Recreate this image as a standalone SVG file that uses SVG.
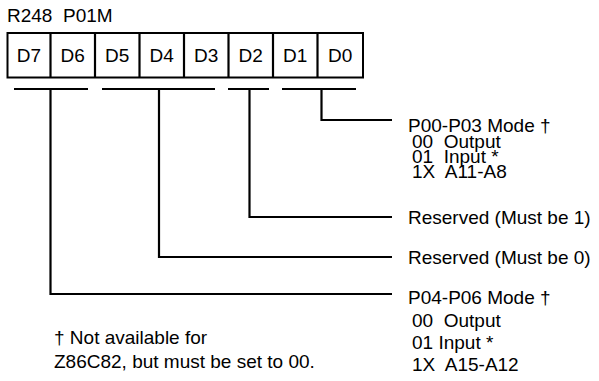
<svg xmlns="http://www.w3.org/2000/svg" width="599" height="381" viewBox="0 0 599 381">
<style>
text{font-family:"Liberation Sans",Arial,sans-serif;font-size:19px;fill:#000;white-space:pre}
.cell{fill:#fff;stroke:#000;stroke-width:2}
.ln{fill:none;stroke:#000;stroke-width:2.2}
.c{text-anchor:middle}
</style>
<rect width="599" height="381" fill="#fff"/>
<text x="7" y="22" xml:space="preserve">R248  P01M</text>
<g id="register">
<rect class="cell" x="7.5" y="33" width="355.5" height="44.5"/>
<g class="ln">
<line x1="50.5" y1="33" x2="50.5" y2="77.5"/>
<line x1="95" y1="33" x2="95" y2="77.5"/>
<line x1="139.5" y1="33" x2="139.5" y2="77.5"/>
<line x1="184" y1="33" x2="184" y2="77.5"/>
<line x1="228.5" y1="33" x2="228.5" y2="77.5"/>
<line x1="273" y1="33" x2="273" y2="77.5"/>
<line x1="317.5" y1="33" x2="317.5" y2="77.5"/>
</g>
<text class="c" x="29" y="62">D7</text>
<text class="c" x="72.7" y="62">D6</text>
<text class="c" x="117.2" y="62">D5</text>
<text class="c" x="161.7" y="62">D4</text>
<text class="c" x="206.2" y="62">D3</text>
<text class="c" x="250.7" y="62">D2</text>
<text class="c" x="295.2" y="62">D1</text>
<text class="c" x="340.2" y="62">D0</text>
</g>
<g id="connectors" class="ln">
<line x1="14" y1="89" x2="88" y2="89"/>
<line x1="102" y1="89" x2="215" y2="89"/>
<line x1="228" y1="89" x2="269" y2="89"/>
<line x1="282" y1="89" x2="356" y2="89"/>
<polyline points="321.5,89 321.5,120 392,120"/>
<polyline points="249.5,89 249.5,217 392,217"/>
<polyline points="159,89 159,257 392,257"/>
<polyline points="50.5,89 50.5,294 392,294"/>
</g>
<g id="p00-p03">
<text x="408" y="132">P00-P03 Mode †</text>
<text x="412" y="148" xml:space="preserve">00  Output</text>
<text x="412" y="163" xml:space="preserve">01  Input *</text>
<text x="412" y="178" xml:space="preserve">1X  A11-A8</text>
</g>
<g id="reserved1"><text x="408" y="224">Reserved (Must be 1)</text></g>
<g id="reserved0"><text x="408" y="264">Reserved (Must be 0)</text></g>
<g id="p04-p06">
<text x="408" y="304">P04-P06 Mode †</text>
<text x="412" y="327" xml:space="preserve">00  Output</text>
<text x="412" y="349">01 Input *</text>
<text x="412" y="371" xml:space="preserve">1X  A15-A12</text>
</g>
<g id="footnote">
<text x="54" y="344">† Not available for</text>
<text x="54" y="368">Z86C82, but must be set to 00.</text>
</g>
</svg>
